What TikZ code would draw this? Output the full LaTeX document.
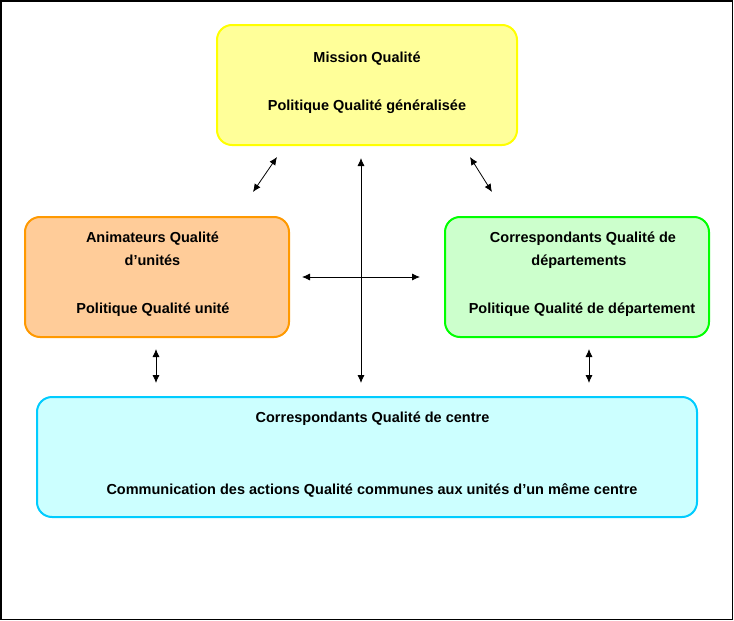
\documentclass[tikz,border=0pt]{standalone}
\usepackage{fontspec}
\setmainfont{Liberation Sans}
\usepackage{tikz}
\usetikzlibrary{arrows,arrows.meta}
\definecolor{missionfill}{HTML}{FFFF99}
\definecolor{missiondraw}{HTML}{FFFF00}
\definecolor{unitefill}{HTML}{FFCC99}
\definecolor{unitedraw}{HTML}{FF9900}
\definecolor{deptfill}{HTML}{CCFFCC}
\definecolor{deptdraw}{HTML}{00FF00}
\definecolor{centrefill}{HTML}{CCFFFF}
\definecolor{centredraw}{HTML}{00CCFF}
\tikzset{
  qbox/.style = {rectangle, rounded corners=15pt, line width=2pt,
    align=center, inner sep=0pt, text depth=8pt,
    font=\fontsize{14.5}{17}\selectfont\bfseries},% boite de base
  mission/.style = {qbox, draw=missiondraw, fill=missionfill,
    minimum width=300pt, minimum height=120pt},% mission qualite
  unite/.style = {qbox, draw=unitedraw, fill=unitefill,
    minimum width=264pt, minimum height=120pt},% animateurs d'unites
  dept/.style = {qbox, draw=deptdraw, fill=deptfill,
    minimum width=264pt, minimum height=120pt},% correspondants de departements
  centre/.style = {qbox, draw=centredraw, fill=centrefill,
    minimum width=660pt, minimum height=120pt},% correspondants de centre
  lien/.style = {{Latex[length=8pt,width=7pt]}-{Latex[length=8pt,width=7pt]},
    line width=0.8pt, black}
}

\begin{document}
\begin{tikzpicture} [x=1pt, y=-1pt]
		\useasboundingbox (0,0) rectangle (734,621);
		\draw [line width=1.5pt] (0.75,0.75) rectangle (732.5,619.5);
		% les boites
		\node [mission] (mq) at (367,85) {Mission Qualité\\[31pt]Politique Qualité généralisée};
		\node [unite] (aq) at (157,277) {\hspace*{-9pt}Animateurs Qualité\\[6pt]\hspace*{-9pt}d’unités\\[31pt]\hspace*{-8pt}Politique Qualité unité};
		\node [dept] (cd) at (577,277) {\hspace*{12pt}Correspondants Qualité de\\[6pt]\hspace*{4pt}départements\\[31pt]\hspace*{10pt}Politique Qualité de département};
		\node [centre] (cc) at (367,457) {\hspace*{11pt}Correspondants Qualité de centre\\[55pt]\hspace*{10pt}Communication des actions Qualité communes aux unités d’un même centre};
		% extremites des fleches
		\coordinate (mq_g) at (277,157);
		\coordinate (aq_h) at (253,192);
		\coordinate (mq_d) at (470,157);
		\coordinate (cd_h) at (492,192);
		\coordinate (v_h) at (361,158);
		\coordinate (v_b) at (361,383);
		\coordinate (h_g) at (302,277);
		\coordinate (h_d) at (420,277);
		\coordinate (aq_b) at (156,349);
		\coordinate (cc_g) at (156,383);
		\coordinate (cd_b) at (589,349);
		\coordinate (cc_d) at (589,383);
		% les fleches
		\draw [lien] (aq_h) -- (mq_g);
		\draw [lien] (mq_d) -- (cd_h);
		\draw [lien] (v_h) -- (v_b);
		\draw [lien] (h_g) -- (h_d);
		\draw [lien] (aq_b) -- (cc_g);
		\draw [lien] (cd_b) -- (cc_d);
	\end{tikzpicture}
\end{document}
